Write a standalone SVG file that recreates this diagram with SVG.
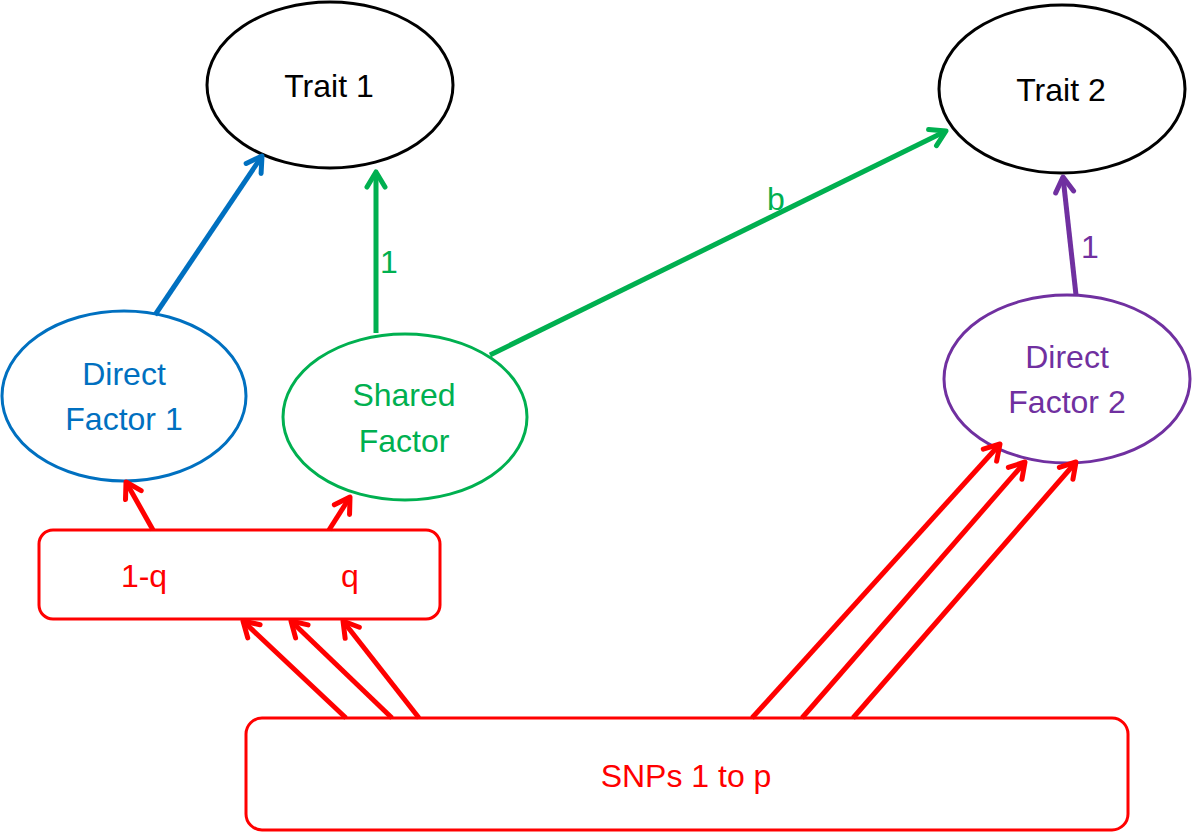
<svg xmlns="http://www.w3.org/2000/svg" width="1192" height="833" viewBox="0 0 1192 833">
<style>
text{font-family:"Liberation Sans",Arial,sans-serif;font-size:32px;text-anchor:middle}
.node{fill:#fff;stroke-width:3}
.conn{fill:none;stroke-width:5}
</style>
<defs>
<marker id="mRed" viewBox="0 0 24 24" markerWidth="24" markerHeight="24" refX="19" refY="12" orient="auto" markerUnits="userSpaceOnUse"><path d="M4,3 L19,12 L4,21" fill="none" stroke="#FF0000" stroke-width="5" stroke-linecap="round" stroke-linejoin="round"/></marker>
<marker id="mBlue" viewBox="0 0 24 24" markerWidth="24" markerHeight="24" refX="19" refY="12" orient="auto" markerUnits="userSpaceOnUse"><path d="M4,3 L19,12 L4,21" fill="none" stroke="#0070C0" stroke-width="5" stroke-linecap="round" stroke-linejoin="round"/></marker>
<marker id="mGreen" viewBox="0 0 24 24" markerWidth="24" markerHeight="24" refX="19" refY="12" orient="auto" markerUnits="userSpaceOnUse"><path d="M4,3 L19,12 L4,21" fill="none" stroke="#00B050" stroke-width="5" stroke-linecap="round" stroke-linejoin="round"/></marker>
<marker id="mPurple" viewBox="0 0 24 24" markerWidth="24" markerHeight="24" refX="19" refY="12" orient="auto" markerUnits="userSpaceOnUse"><path d="M4,3 L19,12 L4,21" fill="none" stroke="#7030A0" stroke-width="5" stroke-linecap="round" stroke-linejoin="round"/></marker>
</defs>
<rect width="1192" height="833" fill="#fff"/>

<g id="trait1">
<ellipse class="node" cx="330" cy="85" rx="123" ry="83" stroke="#000"/>
<text x="329" y="97" fill="#000">Trait 1</text>
</g>
<g id="trait2">
<ellipse class="node" cx="1062" cy="89" rx="123" ry="84" stroke="#000"/>
<text x="1061" y="101" fill="#000">Trait 2</text>
</g>
<g id="direct1">
<ellipse class="node" cx="124" cy="396" rx="122" ry="85" stroke="#0070C0"/>
<text x="124" y="385" fill="#0070C0">Direct</text>
<text x="124" y="430" fill="#0070C0">Factor 1</text>
</g>
<g id="shared">
<ellipse class="node" cx="405" cy="417" rx="122" ry="83" stroke="#00B050"/>
<text x="404" y="406" fill="#00B050">Shared</text>
<text x="404" y="452" fill="#00B050">Factor</text>
</g>
<g id="direct2">
<ellipse class="node" cx="1067" cy="379" rx="123" ry="84" stroke="#7030A0"/>
<text x="1067" y="368" fill="#7030A0">Direct</text>
<text x="1067" y="413" fill="#7030A0">Factor 2</text>
</g>
<g id="mix">
<rect class="node" x="39" y="530" width="401" height="89" rx="14" stroke="#FF0000"/>
<text x="144" y="587" fill="#FF0000">1-q</text>
<text x="350" y="587" fill="#FF0000">q</text>
</g>
<g id="snps">
<rect class="node" x="246" y="718" width="882" height="112" rx="16" stroke="#FF0000"/>
<text x="686" y="787" fill="#FF0000">SNPs 1 to p</text>
</g>

<g id="connectors" class="conn">
<line x1="155" y1="315" x2="262" y2="156" stroke="#0070C0" marker-end="url(#mBlue)"/>
<line x1="376" y1="333" x2="376" y2="172" stroke="#00B050" marker-end="url(#mGreen)"/>
<line x1="490" y1="355" x2="946" y2="131" stroke="#00B050" marker-end="url(#mGreen)"/>
<line x1="1076" y1="295" x2="1063" y2="177" stroke="#7030A0" marker-end="url(#mPurple)"/>
<line x1="153" y1="530" x2="126" y2="482" stroke="#FF0000" marker-end="url(#mRed)"/>
<line x1="329" y1="530" x2="350" y2="497" stroke="#FF0000" marker-end="url(#mRed)"/>
<line x1="346" y1="718" x2="243" y2="621" stroke="#FF0000" marker-end="url(#mRed)"/>
<line x1="392" y1="718" x2="291" y2="621" stroke="#FF0000" marker-end="url(#mRed)"/>
<line x1="419" y1="718" x2="343" y2="621" stroke="#FF0000" marker-end="url(#mRed)"/>
<line x1="752" y1="718" x2="1000" y2="444" stroke="#FF0000" marker-end="url(#mRed)"/>
<line x1="802" y1="718" x2="1025" y2="462" stroke="#FF0000" marker-end="url(#mRed)"/>
<line x1="853" y1="718" x2="1076" y2="462" stroke="#FF0000" marker-end="url(#mRed)"/>
</g>
<g id="labels">
<text x="389" y="273" fill="#00B050">1</text>
<text x="776" y="210" fill="#00B050">b</text>
<text x="1090" y="258" fill="#7030A0">1</text>
</g>
</svg>
